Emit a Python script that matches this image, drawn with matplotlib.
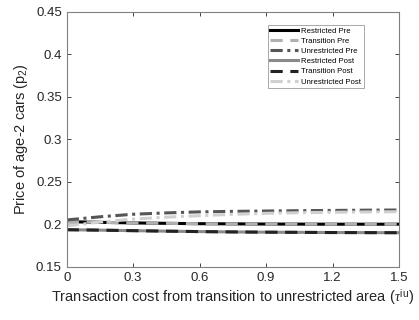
import matplotlib
matplotlib.use("Agg")
import matplotlib.pyplot as plt
import numpy as np

plt.rcParams['font.family'] = ['Liberation Sans', 'DejaVu Sans']
plt.rcParams['mathtext.fontset'] = 'custom'
plt.rcParams['mathtext.rm'] = 'Liberation Sans'
plt.rcParams['mathtext.it'] = 'Liberation Serif:italic'

tau = [0, 0.15, 0.3, 0.45, 0.6, 0.75, 0.9, 1.05, 1.2, 1.35, 1.5]

# prices of age-2 cars
restricted_pre = [0.2030, 0.2022, 0.2015, 0.2010, 0.2006, 0.2004, 0.2002, 0.2001, 0.2000, 0.2000, 0.2000]
transition_pre = restricted_pre
unrestricted_pre = [0.2050, 0.2087, 0.2117, 0.2133, 0.2145, 0.2151, 0.2155, 0.2159, 0.2162, 0.2165, 0.2167]
restricted_post = [0.1935, 0.1930, 0.1924, 0.1918, 0.1913, 0.1909, 0.1906, 0.1904, 0.1902, 0.1901, 0.1900]
transition_post = restricted_post
unrestricted_post = [0.1980, 0.2025, 0.2060, 0.2083, 0.2100, 0.2116, 0.2128, 0.2135, 0.2140, 0.2144, 0.2147]

fig = plt.figure(figsize=(4.19, 3.2), dpi=100)
ax = fig.add_axes([66.7/419, 1-266.7/320, (399-66.7)/419, (266.7-11.7)/320])

lw = 2.2
ax.plot(tau, restricted_pre, color='black', lw=lw, label='Restricted Pre')
ax.plot(tau, transition_pre, color='#b0b0b0', lw=lw, ls=(0, (4, 2.5)), label='Transition Pre')
ax.plot(tau, unrestricted_pre, color='#555555', lw=lw, ls=(0, (4, 1.5, 1, 1.5)), label='Unrestricted Pre')
ax.plot(tau, restricted_post, color='#8a8a8a', lw=lw, label='Restricted Post')
ax.plot(tau, transition_post, color='#222222', lw=lw, ls=(0, (4, 2.5)), label='Transition Post')
ax.plot(tau, unrestricted_post, color='#d0d0d0', lw=lw, ls=(0, (4, 1.5, 1, 1.5)), label='Unrestricted Post')

ax.set_xlim(0, 1.5)
ax.set_ylim(0.15, 0.45)
ax.set_xticks([0, 0.3, 0.6, 0.9, 1.2, 1.5])
ax.set_xticklabels(['0', '0.3', '0.6', '0.9', '1.2', '1.5'])
ax.set_yticks([0.15, 0.2, 0.25, 0.3, 0.35, 0.4, 0.45])
ax.set_yticklabels(['0.15', '0.2', '0.25', '0.3', '0.35', '0.4', '0.45'])
ax.tick_params(direction='in', top=True, right=True, labelsize=9.5, colors='#262626', length=3, width=0.6)
for s in ax.spines.values():
    s.set_color('#808080')
    s.set_linewidth(0.8)
for t in ax.get_xticklines() + ax.get_yticklines():
    t.set_color('#808080')

ax.set_ylabel('Price of age-2 cars (p$_2$)', fontsize=10.5, color='#262626')
ax.set_xlabel(r'Transaction cost from transition to unrestricted area ($\tau^{\mathrm{iu}}$)', fontsize=10.5, color='#262626', labelpad=3)

leg = ax.legend(loc='upper right', bbox_to_anchor=(0.905, 0.965), fontsize=5.6, frameon=True, fancybox=False,
                handlelength=3.6, handletextpad=0.3, borderpad=0.35, labelspacing=0.35)
leg.get_frame().set_edgecolor('#808080')
leg.get_frame().set_linewidth(0.6)

fig.savefig('out.png', dpi=100)
